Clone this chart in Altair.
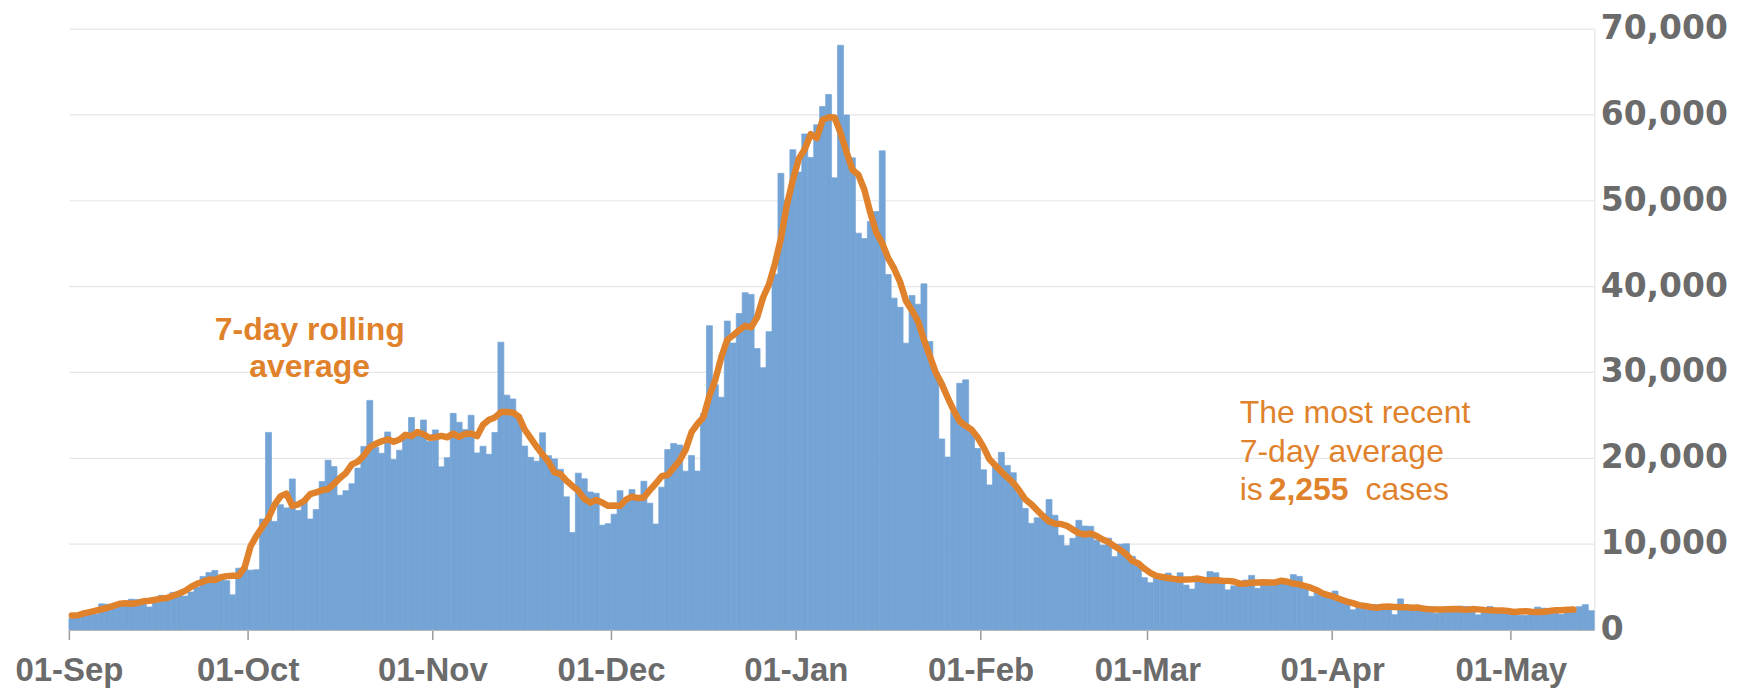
import altair as alt
import pandas as pd

# Daily reported cases, 1 Sep 2020 – 14 May 2021
sep = [1295, 1508, 1735, 1940, 1813, 2988, 2948, 2460, 2659, 2919, 3539, 3497, 3330, 2621, 3105,
       3991, 3395, 4322, 4422, 3899, 4368, 4926, 6178, 6634, 6874, 6042, 5693, 4044, 7143, 7108]
oct_ = [6914, 6968, 12872, 22961, 12594, 14542, 14162, 17540, 13864, 15166, 12872, 13972, 17234,
        19724, 18980, 15650, 16171, 16982, 18804, 21331, 26688, 21242, 20530, 23012, 19790, 20890,
        22885, 24701, 23065, 24405, 21915]
nov = [23254, 18950, 20018, 25177, 24141, 23287, 24957, 20572, 21350, 20412, 22950, 33470, 27301,
       26860, 24962, 21363, 20051, 19609, 22915, 20252, 19875, 18662, 15450, 11299, 18213, 17555,
       16022, 15871, 12155, 12330]
dec = [13430, 16170, 14879, 16298, 15539, 17272, 14718, 12282, 16578, 20964, 21672, 21502, 18447,
       20263, 18450, 25161, 35383, 28507, 27052, 35928, 33364, 36804, 39237, 39036, 32725, 30501,
       34693, 41385, 53135, 50023, 55892]
jan = [53285, 57725, 54990, 58784, 60916, 62322, 52618, 68053, 59937, 54940, 46169, 45533, 47525,
       48682, 55761, 41346, 38598, 37535, 33355, 38905, 37892, 40261, 33552, 30004, 22195, 20089,
       25308, 28680, 29079, 23275, 21088]
feb = [18607, 16840, 19202, 20634, 19114, 18262, 15845, 14104, 12364, 13013, 13494, 15144, 13308,
       10972, 9765, 10625, 12718, 12057, 12027, 10406, 9834, 10641, 8489, 9938, 9985, 8523, 7434, 6035]
mar = [5455, 6391, 5766, 6573, 6040, 6609, 5177, 4712, 5766, 5926, 6753, 6609, 5534, 4618, 5089,
       5294, 5758, 6303, 4802, 5587, 5312, 5342, 5379, 5605, 6397, 6187, 4715, 3862, 4654, 4052, 4040]
apr = [4479, 3402, 3423, 2297, 2762, 2379, 2763, 2874, 2693, 2589, 1730, 3568, 2472, 2491, 2672,
       2596, 2206, 1882, 2524, 2062, 2396, 2729, 2678, 2381, 1712, 2064, 2685, 2166, 2333, 2445]
may = [2081, 1671, 1649, 1946, 2613, 2490, 2047, 1907, 1770, 2357, 2474, 2657, 2896, 2193]

cases = sep + oct_ + nov + dec + jan + feb + mar + apr + may
start = pd.Timestamp("2020-09-01")
days = pd.date_range(start, periods=len(cases), freq="D")

df = pd.DataFrame({
    "date": days.strftime("%Y-%m-%dT%H:%M:%S"),
    "next": (days + pd.Timedelta(days=1)).strftime("%Y-%m-%dT%H:%M:%S"),
    "mid": (days + pd.Timedelta(hours=12)).strftime("%Y-%m-%dT%H:%M:%S"),
    "cases": cases,
})
N = len(cases)

ORANGE = "#E0822C"
BLUE = "#74A4D6"
GREY = "#6B6B6B"

month_ticks = [alt.DateTime(year=y, month=m, date=1) for y, m in
               [(2020, 9), (2020, 10), (2020, 11), (2020, 12), (2021, 1), (2021, 2),
                (2021, 3), (2021, 4), (2021, 5)]]
x_domain = [alt.DateTime(year=2020, month=9, date=1), alt.DateTime(year=2021, month=5, date=15)]

x_scale = alt.Scale(domain=x_domain, nice=False)
y_scale = alt.Scale(domain=[0, 70000], nice=False)

x_axis = alt.Axis(
    values=month_ticks, format="%d-%b", title=None, grid=False,
    domainColor="#B5B5B5", domainWidth=2, tickColor="#9A9A9A", tickSize=10, tickWidth=1.5,
    labelFont="Liberation Sans", labelFontWeight="bold", labelFontSize=33,
    labelColor=GREY, labelPadding=15, labelAlign="center", labelBaseline="top",
    labelFlush=False, labelOverlap=False,
)
y_axis = alt.Axis(
    orient="right", values=list(range(0, 70001, 10000)),
    labelExpr="format(datum.value, ',')", title=None,
    grid=True, gridColor="#E6E6E6", gridWidth=1.2, ticks=False,
    domain=True, domainColor="#E6E6E6", domainWidth=1.2,
    labelFont="DejaVu Sans", labelFontWeight="bold", labelFontSize=33,
    labelColor=GREY, labelPadding=6, labelAlign="left", labelBaseline="middle",
)

bars = alt.Chart(df).mark_bar(color=BLUE, opacity=1, stroke=BLUE, strokeWidth=0.7).encode(
    x=alt.X("date:T", scale=x_scale, axis=x_axis),
    x2="next:T",
    y=alt.Y("cases:Q", scale=y_scale, axis=y_axis),
    y2=alt.datum(0),
)

line = alt.Chart(df).transform_window(
    avg="mean(cases)", frame=[-3, 3], sort=[{"field": "date"}]
).transform_window(
    idx="row_number()", sort=[{"field": "date"}]
).transform_filter(
    f"datum.idx <= {N - 3}"
).mark_line(color=ORANGE, strokeWidth=6.5, strokeJoin="round", strokeCap="round").encode(
    x=alt.X("mid:T", scale=x_scale),
    y=alt.Y("avg:Q", scale=y_scale),
)

# annotations
ann1 = pd.DataFrame({
    "t": ["7-day rolling", "average"],
    "d": ["2020-10-11T10:00:00", "2020-10-11T10:00:00"],
    "v": [34900, 30600],
})
ann2 = pd.DataFrame({
    "t": ["The most recent", "7-day average", "is"],
    "d": ["2021-03-16T12:00:00"] * 3,
    "v": [25230, 20700, 16280],
})
ann_num = pd.DataFrame({"t": ["2,255"], "d": ["2021-03-16T12:00:00"], "v": [16280]})
ann_cases = pd.DataFrame({"t": ["cases"], "d": ["2021-03-16T12:00:00"], "v": [16280]})

enc = dict(
    x=alt.X("d:T", scale=x_scale),
    y=alt.Y("v:Q", scale=y_scale),
    text="t:N",
)

t1 = alt.Chart(ann1).mark_text(
    font="Liberation Sans", fontWeight="bold", fontSize=32, color=ORANGE,
    align="center", baseline="middle",
).encode(**enc)

t2 = alt.Chart(ann2).mark_text(
    font="Liberation Sans", fontSize=32, color=ORANGE, align="left", baseline="middle",
).encode(**enc)

t3 = alt.Chart(ann_num).mark_text(
    font="Liberation Sans", fontWeight="bold", fontSize=32, color=ORANGE,
    align="left", baseline="middle", dx=29,
).encode(**enc)

t4 = alt.Chart(ann_cases).mark_text(
    font="Liberation Sans", fontSize=32, color=ORANGE, align="left", baseline="middle", dx=126,
).encode(**enc)

chart = alt.layer(bars, line, t1, t2, t3, t4).properties(
    width=1528, height=602,
    autosize=alt.AutoSizeParams(type="none"),
    padding={"left": 61, "top": 20, "right": 140, "bottom": 62},
    background="white",
).configure_view(stroke=None)

chart.save("out.html", embed_options={"renderer": "svg", "actions": False})
